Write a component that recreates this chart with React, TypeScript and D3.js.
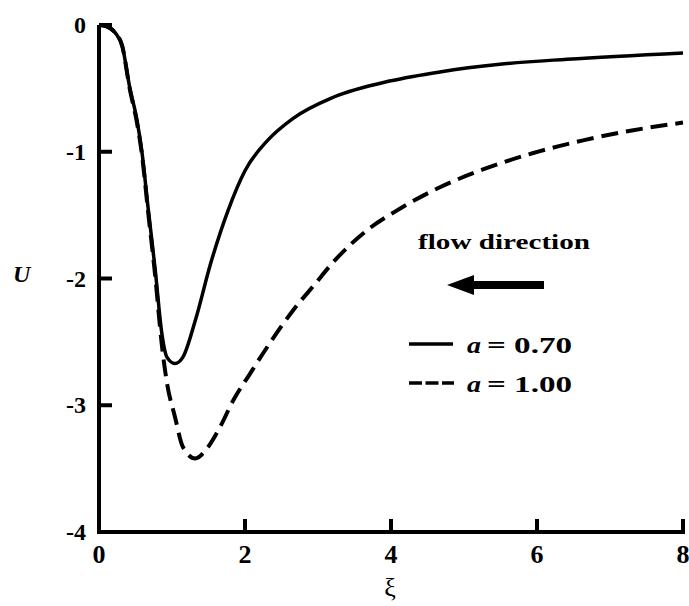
import React from "react";
import * as d3 from "d3";

const xTicks = [0, 2, 4, 6, 8];
const yTicks = [0, -1, -2, -3, -4];

const xiA070 = [0, 0.1, 0.22, 0.32, 0.42, 0.52, 0.59, 0.67, 0.77, 0.86, 0.93, 1.04, 1.15, 1.32, 1.53, 1.77, 2.0, 2.31, 2.65, 3.21, 4.0, 4.67, 5.49, 6.41, 8.0];
const uA070 = [0, -0.01, -0.06, -0.17, -0.49, -0.75, -1.01, -1.43, -1.93, -2.43, -2.62, -2.67, -2.62, -2.33, -1.88, -1.46, -1.15, -0.91, -0.74, -0.57, -0.44, -0.37, -0.31, -0.27, -0.22];

const xiA100 = [0, 0.1, 0.22, 0.32, 0.42, 0.52, 0.59, 0.67, 0.77, 0.86, 0.93, 1.04, 1.15, 1.32, 1.48, 1.66, 1.84, 2.07, 2.34, 2.66, 2.95, 3.21, 3.67, 4.12, 4.67, 5.26, 5.95, 6.63, 7.32, 8.0];
const uA100 = [0, -0.01, -0.06, -0.17, -0.5, -0.77, -1.03, -1.46, -1.98, -2.52, -2.82, -3.09, -3.33, -3.42, -3.34, -3.17, -2.96, -2.75, -2.51, -2.25, -2.05, -1.87, -1.62, -1.45, -1.28, -1.14, -1.01, -0.91, -0.83, -0.77];

const legendLabels = ["= 0.70", "= 1.00"];

const FONT = "Liberation Serif, Times New Roman, serif";

export default function App() {
  const x = d3.scaleLinear().domain([0, 8]).range([99, 683]);
  const y = d3.scaleLinear().domain([-4, 0]).range([532, 25]);
  const line = d3
    .line<[number, number]>()
    .x((d) => x(d[0]))
    .y((d) => y(d[1]))
    .curve(d3.curveMonotoneX);

  const s1 = xiA070.map((v, i) => [v, uA070[i]] as [number, number]);
  const s2 = xiA100.map((v, i) => [v, uA100[i]] as [number, number]);

  return (
    <svg
      width={689}
      height={606}
      style={{ position: "absolute", left: 0, top: 0, background: "#fff" }}
      fontFamily={FONT}
    >
      <rect x={0} y={0} width={689} height={606} fill="#fff" />
      {/* curves */}
      <path d={line(s2) || ""} fill="none" stroke="#000" strokeWidth={4} strokeDasharray="17,8" />
      <path d={line(s1) || ""} fill="none" stroke="#000" strokeWidth={3.5} />

      {/* axes */}
      <line x1={x(0)} x2={x(0)} y1={y(0)} y2={y(-4) + 2} stroke="#000" strokeWidth={4} />
      <line x1={x(0) - 2} x2={x(8) + 2} y1={y(-4)} y2={y(-4)} stroke="#000" strokeWidth={4} />
      {yTicks.map((t) => (
        <g key={"y" + t}>
          <line x1={x(0)} x2={x(0) + 13} y1={y(t)} y2={y(t)} stroke="#000" strokeWidth={4} />
          <text x={86} y={y(t) + 8} textAnchor="end" fontSize={24} fontWeight="bold">
            {t === 0 ? "0" : "-" + Math.abs(t)}
          </text>
        </g>
      ))}
      {xTicks.map((t) => (
        <g key={"x" + t}>
          <line x1={x(t)} x2={x(t)} y1={y(-4)} y2={y(-4) - 13} stroke="#000" strokeWidth={4} />
          <text x={x(t)} y={563} textAnchor="middle" fontSize={26} fontWeight="bold">
            {t}
          </text>
        </g>
      ))}
      <text x={390} y={596} textAnchor="middle" fontSize={26}>
        ξ
      </text>
      <text x={13} y={282} fontSize={24} fontWeight="bold" fontStyle="italic">
        U
      </text>

      {/* flow direction */}
      <text x={418} y={249} fontSize={22} fontWeight="bold" textLength={172} lengthAdjust="spacingAndGlyphs">
        flow direction
      </text>
      <rect x={472} y={281} width={72} height={8} fill="#000" />
      <path d="M447,285 L474,275 L474,295 Z" fill="#000" />

      {/* legend */}
      <line x1={409} x2={453} y1={344} y2={344} stroke="#000" strokeWidth={3.5} />
      <line x1={409} x2={454} y1={383} y2={383} stroke="#000" strokeWidth={3.5} strokeDasharray="13,3.5" />
      {legendLabels.map((lab, i) => (
        <g key={lab}>
          <text x={467} y={353 + i * 39} fontSize={24} fontWeight="bold" fontStyle="italic" textLength={14} lengthAdjust="spacingAndGlyphs">
            a
          </text>
          <text x={487} y={353 + i * 39} fontSize={24} fontWeight="bold" textLength={85} lengthAdjust="spacingAndGlyphs">
            {lab}
          </text>
        </g>
      ))}
    </svg>
  );
}
